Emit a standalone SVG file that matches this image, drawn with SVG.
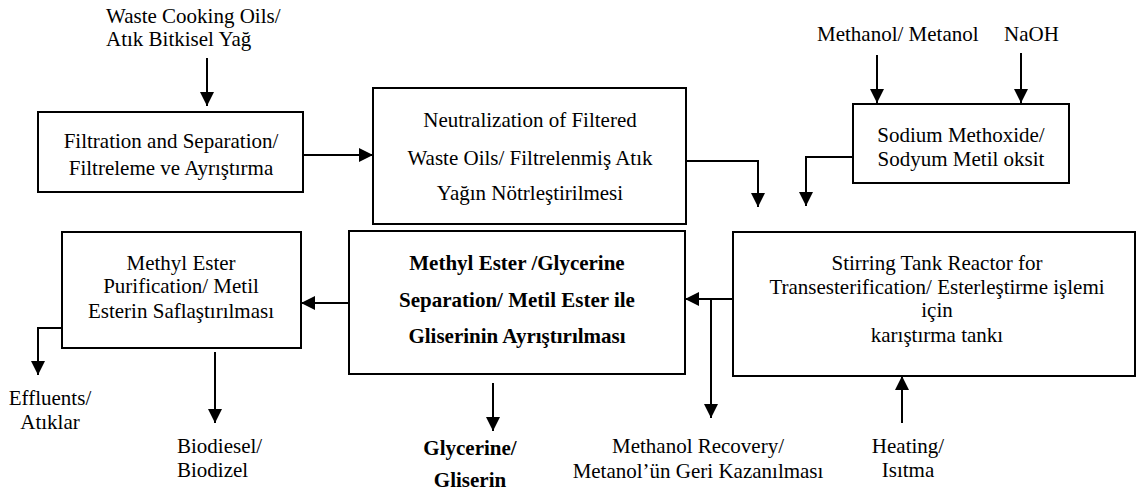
<svg xmlns="http://www.w3.org/2000/svg" width="1136" height="499" viewBox="0 0 1136 499" font-family="Liberation Serif, Times New Roman, serif" font-size="21">
<style>
.b{font-weight:bold}
.m{text-anchor:middle}
.box{fill:#fff;stroke:#000;stroke-width:2}
.ln{fill:none;stroke:#000;stroke-width:2}
</style>
<defs>
<marker id="ah" viewBox="0 0 14 14" refX="14" refY="7" markerWidth="14" markerHeight="14" orient="auto" markerUnits="userSpaceOnUse">
<path d="M0,0 L14,7 L0,14 z" fill="#000"/>
</marker>
</defs>
<rect width="1136" height="499" fill="#fff"/>
<g id="labels">
<text x="106" y="23">Waste Cooking Oils/</text>
<text x="106" y="46">Atık Bitkisel Yağ</text>
<text x="817" y="41">Methanol/ Metanol</text>
<text x="1004" y="41">NaOH</text>
<text class="m" x="50" y="405">Effluents/</text>
<text class="m" x="50" y="429">Atıklar</text>
<text x="177" y="453">Biodiesel/</text>
<text x="177" y="477">Biodizel</text>
<text class="m b" x="470" y="455">Glycerine/</text>
<text class="m b" x="470" y="487">Gliserin</text>
<text class="m" x="698" y="453">Methanol Recovery/</text>
<text class="m" x="698" y="478">Metanol’ün Geri Kazanılması</text>
<text class="m" x="908" y="453">Heating/</text>
<text class="m" x="908" y="477">Isıtma</text>
</g>
<g id="filtration">
<rect class="box" x="38" y="112" width="265" height="80"/>
<text class="m" x="171" y="148">Filtration and Separation/</text>
<text class="m" x="171" y="175">Filtreleme ve Ayrıştırma</text>
</g>
<g id="neutralization">
<rect class="box" x="373" y="88" width="313" height="136"/>
<text class="m" x="530" y="127">Neutralization of Filtered</text>
<text class="m" x="530" y="165">Waste Oils/ Filtrelenmiş Atık</text>
<text class="m" x="530" y="200">Yağın Nötrleştirilmesi</text>
</g>
<g id="methoxide">
<rect class="box" x="853" y="104" width="216" height="79"/>
<text class="m" x="961" y="142">Sodium Methoxide/</text>
<text class="m" x="961" y="166">Sodyum Metil oksit</text>
</g>
<g id="reactor">
<rect class="box" x="733" y="232" width="402" height="144"/>
<text class="m" x="937" y="270">Stirring Tank Reactor for</text>
<text class="m" x="937" y="294">Transesterification/ Esterleştirme işlemi</text>
<text class="m" x="937" y="317">için</text>
<text class="m" x="937" y="342">karıştırma tankı</text>
</g>
<g id="separation">
<rect class="box" x="349" y="231" width="336" height="143"/>
<text class="m b" x="517" y="270">Methyl Ester /Glycerine</text>
<text class="m b" x="517" y="307">Separation/ Metil Ester ile</text>
<text class="m b" x="517" y="343">Gliserinin Ayrıştırılması</text>
</g>
<g id="purification">
<rect class="box" x="62" y="232" width="239" height="116"/>
<text class="m" x="181" y="270">Methyl Ester</text>
<text class="m" x="181" y="293">Purification/ Metil</text>
<text class="m" x="181" y="318">Esterin Saflaştırılması</text>
</g>
<g id="connectors">
<path class="ln" marker-end="url(#ah)" d="M207,58 V106"/>
<path class="ln" marker-end="url(#ah)" d="M303,155 H373"/>
<path class="ln" marker-end="url(#ah)" d="M686,161 H758 V207"/>
<path class="ln" marker-end="url(#ah)" d="M877,55 V103"/>
<path class="ln" marker-end="url(#ah)" d="M1021,53 V103"/>
<path class="ln" marker-end="url(#ah)" d="M853,157 H806 V206"/>
<path class="ln" marker-end="url(#ah)" d="M733,299 H685"/>
<path class="ln" marker-end="url(#ah)" d="M711,299 V418"/>
<path class="ln" marker-end="url(#ah)" d="M902,423 V376"/>
<path class="ln" marker-end="url(#ah)" d="M493,383 V431"/>
<path class="ln" marker-end="url(#ah)" d="M349,303 H301"/>
<path class="ln" marker-end="url(#ah)" d="M62,328 H38 V375"/>
<path class="ln" marker-end="url(#ah)" d="M215,352 V423"/>
</g>
</svg>
